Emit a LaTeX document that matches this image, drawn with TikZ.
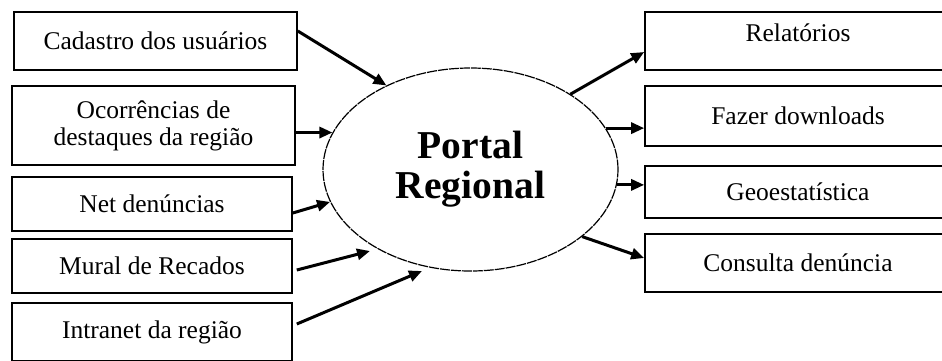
\documentclass[tikz,border=0pt]{standalone}
\usepackage{fontspec}
\setmainfont{Liberation Serif}
\usetikzlibrary{arrows.meta,shapes.geometric}

\tikzset{
  itembox/.style={draw=black, line width=1.6pt, fill=white, inner sep=0pt,
    font=\fontsize{25.5}{27}\selectfont, align=center},
  hub/.style={draw=black, ellipse, line width=1.2pt, dash pattern=on 10pt off 1pt,
    minimum width=295pt, minimum height=203pt, inner sep=0pt,
    font=\fontsize{39.5}{40}\selectfont\bfseries, align=center},
  flow/.style={line width=3pt, -{Triangle[length=13pt,width=11pt]}},
}

\begin{document}
\begin{tikzpicture}[x=1pt, y=-1pt]
  \useasboundingbox (0,0) rectangle (942,360);
  \clip (0,0) rectangle (942,360);
  \fill[white] (0,0) rectangle (942,360);

  % central portal
  \node[hub] (portal) at (470.5,169.5) {Portal\\Regional};

  % inputs on the left
  \node[itembox, minimum width=283pt, minimum height=58pt] (cad) at (155.5,41) {Cadastro dos usuários};
  \node[itembox, minimum width=283pt, minimum height=79pt] (oco) at (153.5,125.5) {Ocorrências de\\destaques da região};
  \node[itembox, minimum width=280pt, minimum height=54pt] (net) at (152,204) {Net denúncias};
  \node[itembox, minimum width=280pt, minimum height=54pt] (mur) at (152,266) {Mural de Recados};
  \node[itembox, minimum width=280pt, minimum height=58pt] (intra) at (152,332) {Intranet da região};

  % outputs on the right
  \node[itembox, minimum width=306pt, minimum height=58pt] (rel) at (798,41) {\raisebox{8pt}[\height][\depth]{Relatórios}};
  \node[itembox, minimum width=306pt, minimum height=60pt] (down) at (798,116) {Fazer downloads};
  \node[itembox, minimum width=306pt, minimum height=52pt] (geo) at (798,192) {Geoestatística};
  \node[itembox, minimum width=306pt, minimum height=58pt] (cons) at (798,263) {Consulta denúncia};

  % tips of the two lower arrows, just short of the ellipse
  \coordinate (murtip) at (370,251);
  \coordinate (intratip) at (422,271);

  % arrows into the portal
  \draw[flow] ([yshift=10pt]cad.east) -- (portal.135);
  \draw[flow] (oco.east |- portal.165) -- (portal.165);
  \draw[flow] ([yshift=-9pt]net.east) -- (portal.193);
  \draw[flow] ([xshift=4pt,yshift=-4pt]mur.east) -- (murtip);
  \draw[flow] ([xshift=4pt,yshift=8pt]intra.east) -- (intratip);

  % arrows out of the portal
  \draw[flow] (portal.37) -- ([yshift=-11pt]rel.west);
  \draw[flow] (portal.17) -- (portal.17 -| down.west);
  \draw[flow] (portal.354) -- (portal.354 -| geo.west);
  \draw[flow] (portal.329) -- ([yshift=5pt]cons.west);
\end{tikzpicture}
\end{document}
